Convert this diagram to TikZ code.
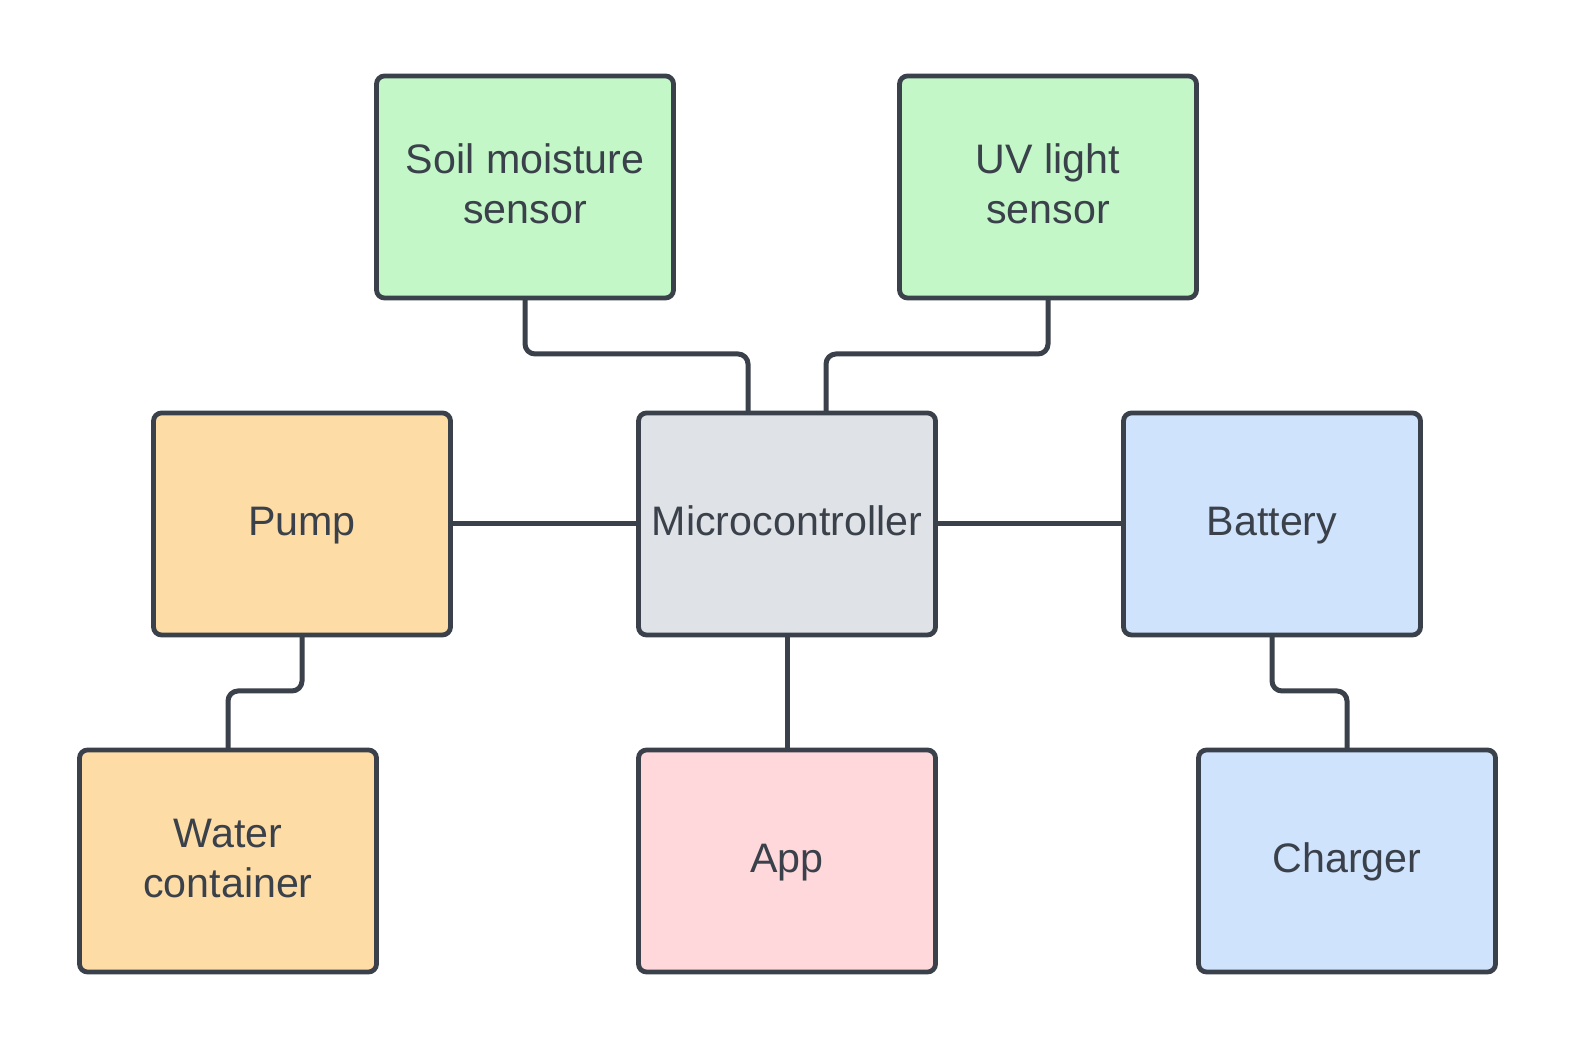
\documentclass[tikz,border=0pt]{standalone}
\usepackage{fontspec}
\setmainfont{Liberation Sans}
\usepackage{tikz}
\usetikzlibrary{positioning,calc}
\usepackage{xcolor}
\definecolor{ink}{HTML}{3A414A}
\definecolor{sensorgreen}{HTML}{C3F7C8}
\definecolor{wateryellow}{HTML}{FDDCA6}
\definecolor{coregray}{HTML}{DFE2E7}
\definecolor{powerblue}{HTML}{CFE3FD}
\definecolor{apppink}{HTML}{FFD8DB}

\begin{document}
\begin{tikzpicture}[
    node distance=57.5pt and 94pt,
    box/.style={draw=ink, line width=2.4pt, rounded corners=4pt, align=center,
      minimum width=148.5pt, minimum height=111pt, inner sep=2pt, outer sep=0pt,
      text depth=3pt, text=ink, font=\fontsize{20.6}{25}\selectfont},
    link/.style={draw=ink, line width=2.5pt, rounded corners=5pt}
  ]
  \useasboundingbox (0,0) rectangle (787.5pt,-526pt);
  \node[box, fill=coregray] (micro) at (393.5pt,-262pt) {Microcontroller};
  \node[box, fill=sensorgreen, above=of micro, xshift=-131pt] (soil) {Soil moisture\\sensor};
  \node[box, fill=sensorgreen, above=of micro, xshift=130.5pt] (uv) {UV light\\sensor};
  \node[box, fill=wateryellow, left=of micro] (pump) {Pump};
  \node[box, fill=powerblue, right=of micro] (batt) {Battery};
  \node[box, fill=apppink, below=of micro] (app) {App};
  \node[box, fill=wateryellow, below=of pump, xshift=-37pt] (water) {Water\\container};
  \node[box, fill=powerblue, below=of batt, xshift=37.5pt] (charger) {Charger};
  \draw[link] (soil.south) -- ++(0,-28pt) -| ([xshift=-19.5pt]micro.north);
  \draw[link] (uv.south) -- ++(0,-28pt) -| ([xshift=19.5pt]micro.north);
  \draw[link] (pump.east) -- (micro.west);
  \draw[link] (micro.east) -- (batt.west);
  \draw[link] (micro.south) -- (app.north);
  \draw[link] (pump.south) -- ++(0,-28pt) -| (water.north);
  \draw[link] (batt.south) -- ++(0,-28pt) -| (charger.north);
  \end{tikzpicture}
\end{document}
